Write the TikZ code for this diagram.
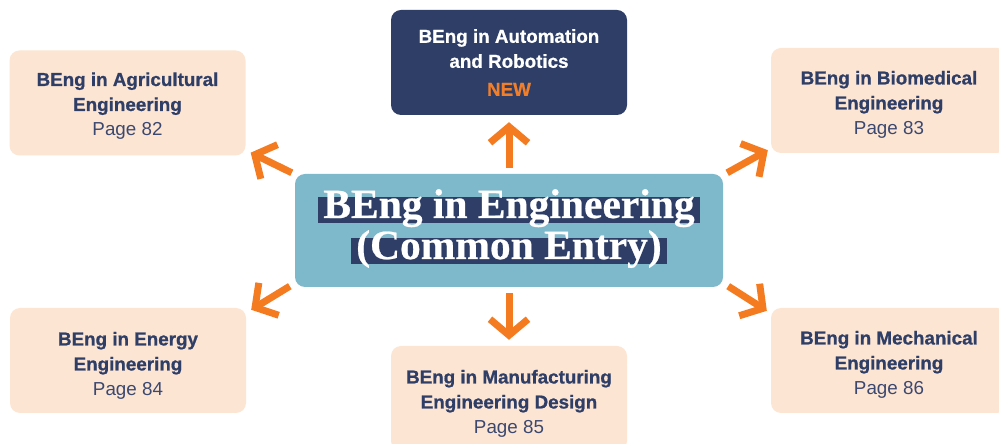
\documentclass[tikz,border=0pt]{standalone}
\usepackage{fontspec}
\usetikzlibrary{arrows.meta}
\newfontfamily\boxfont{Liberation Sans}[BoldFeatures={FakeBold=0.8}]
\newfontfamily\titlefont{Liberation Serif}[BoldFeatures={FakeBold=0.6}]
\definecolor{navy}{HTML}{2E3E66}
\definecolor{pagec}{HTML}{3B4870}
\definecolor{peachc}{HTML}{FDE5D3}
\definecolor{tealc}{HTML}{7EB8CB}
\definecolor{orangec}{HTML}{F47B20}
\definecolor{newc}{HTML}{F07E2B}
\newcommand\cardtext[4][-4pt]{\raisebox{#1}[\height][\depth]{\begin{tabular}{@{}c@{}}\textbf{#2}\\\textbf{#3}\\\textcolor{pagec}{#4}\end{tabular}}}
\begin{document}
\begin{tikzpicture}[x=1pt,y=1pt,
  card/.style={rounded corners=10pt, minimum width=236pt, minimum height=105pt,
    inner sep=0pt, align=center, font=\boxfont\fontsize{18.8}{25}\selectfont},
  peach/.style={card, fill=peachc, text=navy},
  dark/.style={card, fill=navy, text=white},
  centre/.style={fill=tealc, rounded corners=10pt, minimum width=428pt, minimum height=113pt, inner sep=0pt},
  band/.style={fill=navy, text=white, anchor=base, inner xsep=5pt, inner ysep=0pt,
    text height=21pt, text depth=5pt, font=\titlefont\bfseries\fontsize{41.5}{44}\selectfont},
  arr/.style={draw=orangec, line width=7pt, -{Straight Barb[length=16pt,width=38pt,line join=miter]}}
]
\useasboundingbox (0,0) rectangle (999,444);
\fill[white] (0,0) rectangle (999,444);

\node[centre] (c) at (509,213.5) {};
\node[band] (t1) at (509,226) {BEng in Engineering};
\node[band] (t2) at (509,185) {(Common Entry)};

\node[dark] (auto) at (509,381.5) {\textbf{BEng in Automation}\\\textbf{and Robotics}\\[3pt]\textcolor{newc}{\textbf{NEW}}};
\node[peach] (agr) at (127.5,341) {\cardtext[-3pt]{BEng in Agricultural}{Engineering}{Page 82}};
\node[peach] (bio) at (889,343.5) {\cardtext{BEng in Biomedical}{Engineering}{Page 83}};
\node[peach] (ene) at (128,83.5) {\cardtext[-5pt]{BEng in Energy}{Engineering}{Page 84}};
\node[peach] (man) at (509,45.5) {\cardtext[-5pt]{BEng in Manufacturing}{Engineering Design}{Page 85}};
\node[peach] (mec) at (889,83.5) {\cardtext{BEng in Mechanical}{Engineering}{Page 86}};

\draw[arr] ([yshift=6pt]c.north) -- ([yshift=-7pt]auto.south);
\draw[arr] ([yshift=-6pt]c.south) -- ([yshift=6pt]man.north);
\draw[arr] ([xshift=-3pt,yshift=1pt]c.north west) -- ([xshift=5pt,yshift=3pt]agr.south east);
\draw[arr] ([xshift=4pt,yshift=1pt]c.north east) -- ([xshift=-3pt,yshift=3pt]bio.south west);
\draw[arr] ([xshift=-5pt,yshift=1pt]c.south west) -- ([xshift=5pt,yshift=-2pt]ene.north east);
\draw[arr] ([xshift=5pt,yshift=1pt]c.south east) -- ([xshift=-4pt,yshift=-3pt]mec.north west);
\end{tikzpicture}
\end{document}
